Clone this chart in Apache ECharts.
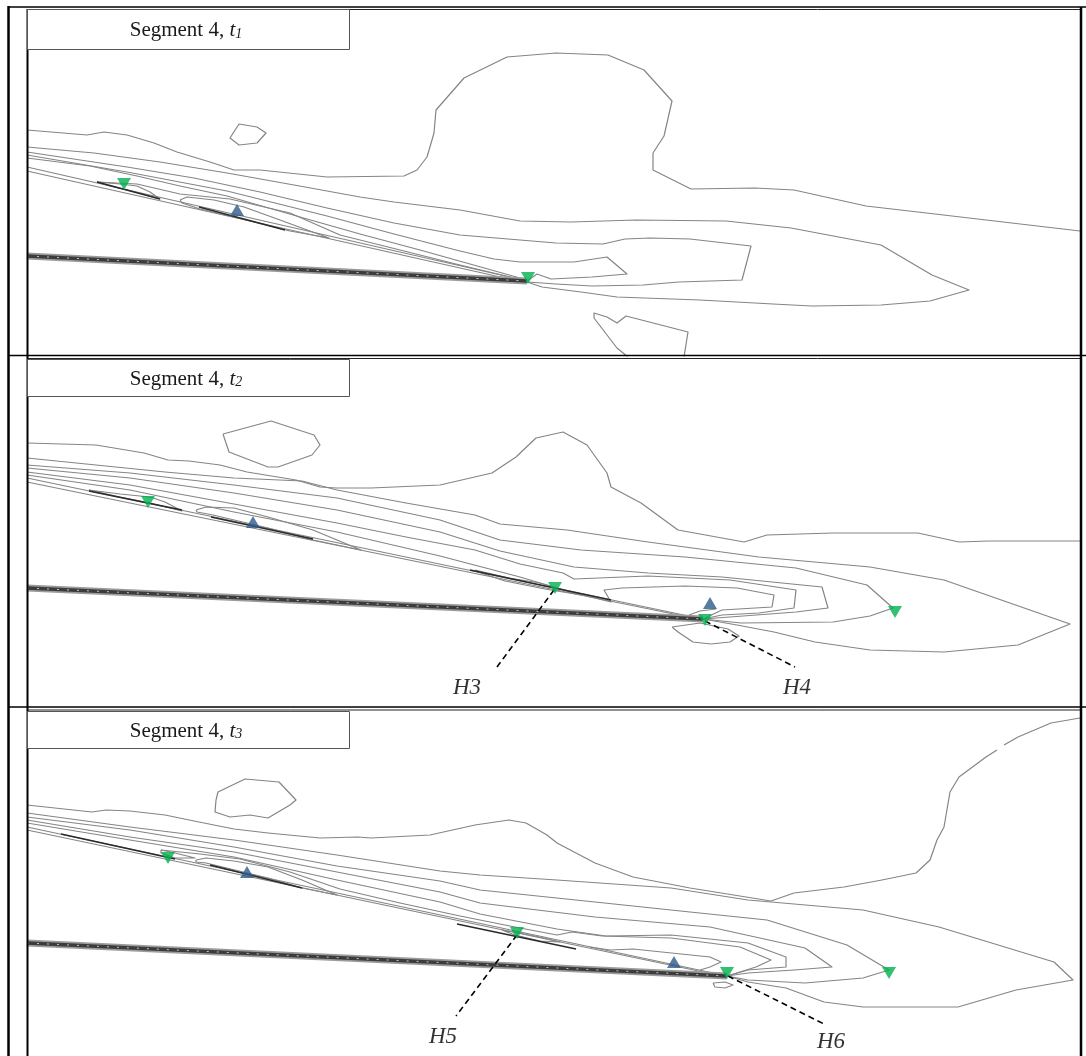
<!DOCTYPE html>
<html><head><meta charset="utf-8">
<script src="https://cdn.jsdelivr.net/npm/echarts@6/dist/echarts.min.js"></script>
<style>html,body{margin:0;padding:0;background:#fff}#c{width:1086px;height:1056px}</style>
</head><body><div id="c"></div>
<script>
// ---------- Panel titles ----------
const panelTitleMain = ['Segment 4, ', 'Segment 4, ', 'Segment 4, '];
const panelTitleVar = ['t', 't', 't'];
const panelTitleSub = ['1', '2', '3'];

// ---------- Panel 1 (t1) ----------
const p1Hull = [[27,256],[527,281]];
const p1Plate1 = [[27,167],[527,281]];
const p1Plate2 = [[27,171],[527,283]];
const p1Outer = [[27,130],[87,135],[104,132],[127,135],[154,143],[177,152],[210,162],[234,170],[260,170],[327,177],[404,176],[417,170],[427,157],[434,133],[436,110],[464,78],[507,57],[556,53],[608,55],[644,70],[672,101],[664,136],[653,153],[653,170],[691,189],[755,188],[794,190],[866,206],[935,214],[1080,231]];
const p1Island = [[239,124],[257,127],[266,133],[257,143],[239,145],[230,138],[239,124]];
const p1C2 = [[27,147],[94,153],[160,162],[227,173],[294,185],[360,197],[394,202],[460,210],[520,221],[571,222],[636,220],[726,221],[791,228],[881,245],[932,275],[969,290],[930,301],[881,305],[812,306],[773,304],[700,300],[617,297],[581,292],[542,287],[527,282]];
const p1C3 = [[27,152],[127,167],[194,178],[260,192],[327,208],[394,223],[460,235],[520,240],[556,243],[603,244],[625,239],[650,238],[690,239],[751,246],[742,280],[679,282],[643,285],[592,286],[556,284],[528,282]];
const p1C4 = [[27,155],[127,172],[227,191],[327,216],[394,234],[460,251],[494,259],[520,262],[574,262],[607,257],[627,274],[592,277],[551,279],[537,274],[527,281]];
const p1C5 = [[27,158],[90,166],[137,176],[180,186],[227,196],[300,217],[360,234],[420,250],[470,264],[527,280]];
const p1C6 = [[97,182],[137,184],[180,194],[230,199],[290,213],[340,235],[400,250],[460,265],[527,281]];
const p1BlueLoop = [[180,200],[187,197],[214,200],[244,207],[280,220],[329,238],[290,231],[250,221],[200,209],[182,203],[180,200]];
const p1GreenLoop = [[97,182],[120,184],[137,186],[150,192],[160,199],[135,192],[110,186],[97,182]];
const p1Bottom = [[628,357],[617,348],[594,318],[594,313],[607,317],[617,323],[626,316],[688,332],[684,357]];
const p1Dark = [[[97,182],[160,199]],[[199,207],[285,230]]];
const p1Green = [[124,184],[528,278]];
const p1Blue = [[237,210]];

// ---------- Panel 2 (t2) ----------
const p2Hull = [[27,588],[703,619]];
const p2Plate1 = [[27,478],[703,619]];
const p2Plate2 = [[27,482],[703,620]];
const p2Outer = [[27,443],[96,445],[144,453],[168,460],[189,461],[220,465],[247,472],[296,480],[320,487],[337,488],[371,488],[440,485],[492,473],[516,457],[536,438],[563,432],[587,445],[607,473],[611,487],[641,503],[678,530],[744,542],[767,535],[833,533],[870,533],[918,533],[959,542],[989,541],[1080,541]];
const p2Island = [[223,434],[271,421],[314,435],[320,445],[312,455],[278,467],[268,467],[229,452],[223,434]];
const p2C2 = [[27,458],[96,465],[165,472],[234,478],[302,481],[337,490],[406,503],[475,515],[500,524],[567,530],[648,542],[759,557],[870,567],[944,580],[1070,624],[1018,645],[944,652],[870,650],[815,642],[774,632],[737,625],[703,619]];
const p2C3 = [[27,465],[130,473],[234,485],[337,498],[440,520],[500,540],[581,550],[685,557],[796,568],[867,585],[893,608],[870,616],[833,622],[741,623],[703,619]];
const p2C4 = [[27,468],[130,478],[234,493],[337,510],[440,532],[500,551],[574,567],[648,573],[722,577],[822,587],[828,608],[796,612],[730,617],[703,619]];
const p2C5 = [[27,472],[130,485],[234,504],[337,523],[406,537],[475,550],[520,564],[563,573],[574,579],[648,576],[730,580],[796,590],[794,608],[759,613],[722,615],[703,619]];
const p2C6 = [[27,475],[130,490],[234,512],[337,532],[440,556],[520,577],[570,592],[611,602],[604,590],[622,588],[685,586],[737,588],[774,595],[772,607],[722,610],[703,619]];
const p2Inner = [[689,615],[700,611],[716,609]];
const p2BlueLoop = [[196,510],[206,507],[234,508],[268,517],[313,530],[361,550],[313,540],[268,528],[213,515],[197,512],[196,510]];
const p2GreenLoop = [[89,490],[120,494],[150,497],[165,502],[182,511],[150,503],[120,497],[89,490]];
const p2Sliver = [[475,570],[509,578],[540,583],[581,595],[545,589],[505,581],[475,571]];
const p2Bottom = [[672,627],[678,632],[693,642],[711,644],[730,642],[739,636],[728,629],[700,623],[672,627]];
const p2Dark = [[[89,491],[182,510]],[[211,517],[313,539]],[[470,570],[611,600]]];
const p2Green = [[148,502],[555,588],[705,620],[895,612]];
const p2Blue = [[253,522],[710,603]];
const p2Leaders = [[[554,590],[497,667]],[[705,621],[795,667]]];
const p2Labels = [{name:'H3', value:[467,688]},{name:'H4', value:[797,688]}];

// ---------- Panel 3 (t3) ----------
const p3Hull = [[27,943],[727,976]];
const p3Plate1 = [[27,827],[727,976]];
const p3Plate2 = [[27,830],[727,977]];
const p3OuterA = [[27,805],[92,812],[106,810],[130,811],[165,815],[199,822],[234,829],[268,833],[320,838],[358,837],[371,838],[430,835],[475,825],[509,820],[526,823],[547,835],[557,843],[595,863],[633,877],[690,888],[771,901],[794,893],[844,887],[882,880],[916,873],[930,860],[937,840],[944,827],[950,792],[959,777],[986,757],[997,750]];
const p3OuterB = [[1004,745],[1018,737],[1051,723],[1080,718]];
const p3Island = [[216,800],[218,792],[245,779],[279,782],[296,800],[290,805],[268,818],[250,815],[230,817],[215,812],[216,800]];
const p3C2 = [[27,813],[130,827],[234,840],[337,855],[440,871],[480,875],[557,880],[671,888],[748,900],[863,910],[939,927],[1054,962],[1073,980],[1016,990],[958,1007],[863,1007],[824,1002],[786,988],[748,982],[727,976]];
const p3C3 = [[27,817],[130,830],[234,847],[337,866],[440,881],[480,890],[595,902],[690,912],[767,920],[847,945],[889,970],[863,978],[805,983],[748,980],[727,976]];
const p3C4 = [[27,820],[130,837],[234,852],[337,872],[440,892],[480,903],[595,917],[710,927],[805,948],[832,967],[794,970],[748,973],[727,976]];
const p3C5 = [[27,823],[130,840],[234,857],[337,880],[440,902],[480,914],[557,929],[606,936],[671,935],[748,943],[786,957],[786,967],[748,970],[727,976]];
const p3C6 = [[161,850],[200,854],[240,859],[290,872],[340,889],[400,903],[460,916],[520,928],[557,935],[572,932],[602,936],[671,938],[740,947],[771,960],[756,967],[727,976]];
const p3C7 = [[590,947],[610,950],[633,949],[710,957],[721,962],[710,967],[700,970]];
const p3BlueLoop = [[196,860],[206,858],[234,861],[268,867],[302,880],[337,895],[302,888],[268,878],[206,863],[196,862],[196,860]];
const p3GreenLoop = [[161,850],[175,853],[195,858],[175,858],[161,853],[161,850]];
const p3Sliver = [[502,930],[520,933],[544,938],[560,942],[540,941],[515,935],[502,930]];
const p3Bottom = [[713,983],[725,982],[733,985],[725,988],[715,987],[713,983]];
const p3Dark = [[[61,834],[175,859]],[[210,865],[302,888]],[[457,924],[576,949]]];
const p3Green = [[168,858],[517,933],[727,973],[889,973]];
const p3Blue = [[247,872],[674,962]];
const p3Leaders = [[[517,935],[456,1016]],[[728,976],[824,1024]]];
const p3Labels = [{name:'H5', value:[443,1037]},{name:'H6', value:[831,1042]}];

// ---------- assembly ----------
const panels = [
  {yr:[9,356], top:9, h:347, hull:p1Hull, plates:[p1Plate1,p1Plate2],
   contours:[p1Outer,p1Island,p1C2,p1C3,p1C4,p1C5,p1C6,p1BlueLoop,p1GreenLoop,p1Bottom],
   dark:p1Dark, green:p1Green, blue:p1Blue, leaders:[], labels:[]},
  {yr:[358,707], top:358, h:349, hull:p2Hull, plates:[p2Plate1,p2Plate2],
   contours:[p2Outer,p2Island,p2C2,p2C3,p2C4,p2C5,p2C6,p2Inner,p2BlueLoop,p2GreenLoop,p2Sliver,p2Bottom],
   dark:p2Dark, green:p2Green, blue:p2Blue, leaders:p2Leaders, labels:p2Labels},
  {yr:[710,1056], top:710, h:346, hull:p3Hull, plates:[p3Plate1,p3Plate2],
   contours:[p3OuterA,p3OuterB,p3Island,p3C2,p3C3,p3C4,p3C5,p3C6,p3C7,p3BlueLoop,p3GreenLoop,p3Sliver,p3Bottom],
   dark:p3Dark, green:p3Green, blue:p3Blue, leaders:p3Leaders, labels:p3Labels}
];

const GRAY = '#858585';
const grids = [], xAxes = [], yAxes = [], series = [];
function line(i, data, color, width, type, z) {
  series.push({type:'line', xAxisIndex:i, yAxisIndex:i, data:data, symbol:'none', showSymbol:false,
    silent:true, animation:false, z:z, lineStyle:{color:color, width:width, type:type||'solid', cap:'butt', join:'round'}});
}
panels.forEach((p, i) => {
  grids.push({left:27, top:p.top, width:1053, height:p.h, show:false});
  xAxes.push({type:'value', gridIndex:i, min:27, max:1080, show:false});
  yAxes.push({type:'value', gridIndex:i, min:p.yr[0], max:p.yr[1], inverse:true, show:false});
  p.contours.forEach(c => line(i, c, GRAY, 1.2, 'solid', 2));
  p.plates.forEach(c => line(i, c, GRAY, 1.2, 'solid', 2));
  p.dark.forEach(c => line(i, c, '#2a2a2a', 1.6, 'solid', 3));
  line(i, p.hull, '#9c9c9c', 7, 'solid', 4);
  line(i, p.hull, '#3c3c3c', 3.5, 'solid', 5);
  line(i, p.hull, '#c4c4c4', 1, [2,8], 6);
  p.leaders.forEach(c => line(i, c, '#000', 1.6, [6,4], 7));
  series.push({type:'scatter', xAxisIndex:i, yAxisIndex:i, data:p.green, symbol:'triangle', symbolRotate:180,
    symbolSize:[14,12], itemStyle:{color:'#00b050'}, silent:true, animation:false, z:8});
  series.push({type:'scatter', xAxisIndex:i, yAxisIndex:i, data:p.blue, symbol:'triangle',
    symbolSize:[14,12], itemStyle:{color:'#2f5a8a'}, silent:true, animation:false, z:8});
  if (p.labels.length) series.push({type:'scatter', xAxisIndex:i, yAxisIndex:i, data:p.labels, symbolSize:1,
    itemStyle:{color:'rgba(0,0,0,0)'}, silent:true, animation:false, z:9,
    label:{show:true, position:'inside', formatter:'{b}', fontFamily:'Liberation Serif', fontStyle:'italic',
      fontSize:23, color:'#000'}});
});

// frame + title boxes
const K = '#000';
const graphic = [
  {type:'line', shape:{x1:8.5,y1:6,x2:8.5,y2:1056}, style:{stroke:K,lineWidth:2.5}, z:20},
  {type:'line', shape:{x1:8,y1:7,x2:1086,y2:7}, style:{stroke:K,lineWidth:1.5}, z:20},
  {type:'line', shape:{x1:27,y1:9.5,x2:1081,y2:9.5}, style:{stroke:'#222',lineWidth:1}, z:20},
  {type:'line', shape:{x1:8,y1:355.5,x2:1086,y2:355.5}, style:{stroke:K,lineWidth:1.5}, z:20},
  {type:'line', shape:{x1:27,y1:358.5,x2:1081,y2:358.5}, style:{stroke:'#222',lineWidth:1}, z:20},
  {type:'line', shape:{x1:8,y1:707,x2:1086,y2:707}, style:{stroke:K,lineWidth:1.5}, z:20},
  {type:'line', shape:{x1:27,y1:710,x2:1081,y2:710}, style:{stroke:'#222',lineWidth:1}, z:20},
  {type:'line', shape:{x1:27.5,y1:9,x2:27.5,y2:1056}, style:{stroke:K,lineWidth:2}, z:20},
  {type:'line', shape:{x1:1081,y1:7,x2:1081,y2:1056}, style:{stroke:K,lineWidth:2.5}, z:20}
];
const boxes = [[9,40],[359,37],[711,37]];
boxes.forEach((b, i) => {
  graphic.push({type:'rect', shape:{x:27.5,y:b[0]+0.5,width:322,height:b[1]}, style:{fill:'#fff',stroke:'#555',lineWidth:1}, z:21});
  graphic.push({type:'text', x:186, y:b[0]+b[1]/2, z:22, style:{
    text:'{a|' + panelTitleMain[i] + '}{i|' + panelTitleVar[i] + '}{s|' + panelTitleSub[i] + '}',
    align:'center', verticalAlign:'middle',
    rich:{
      a:{fontFamily:'Liberation Serif', fontSize:21, fill:'#1a1a1a', lineHeight:24, verticalAlign:'bottom'},
      i:{fontFamily:'Liberation Serif', fontStyle:'italic', fontSize:21, fill:'#1a1a1a', lineHeight:24, verticalAlign:'bottom'},
      s:{fontFamily:'Liberation Serif', fontStyle:'italic', fontSize:14, fill:'#1a1a1a', lineHeight:24, verticalAlign:'bottom'}
    }}});
});

const chart = echarts.init(document.getElementById('c'), null, {renderer:'canvas'});
chart.setOption({animation:false, backgroundColor:'#fff', grid:grids, xAxis:xAxes, yAxis:yAxes, series:series, graphic:graphic});
</script></body></html>
